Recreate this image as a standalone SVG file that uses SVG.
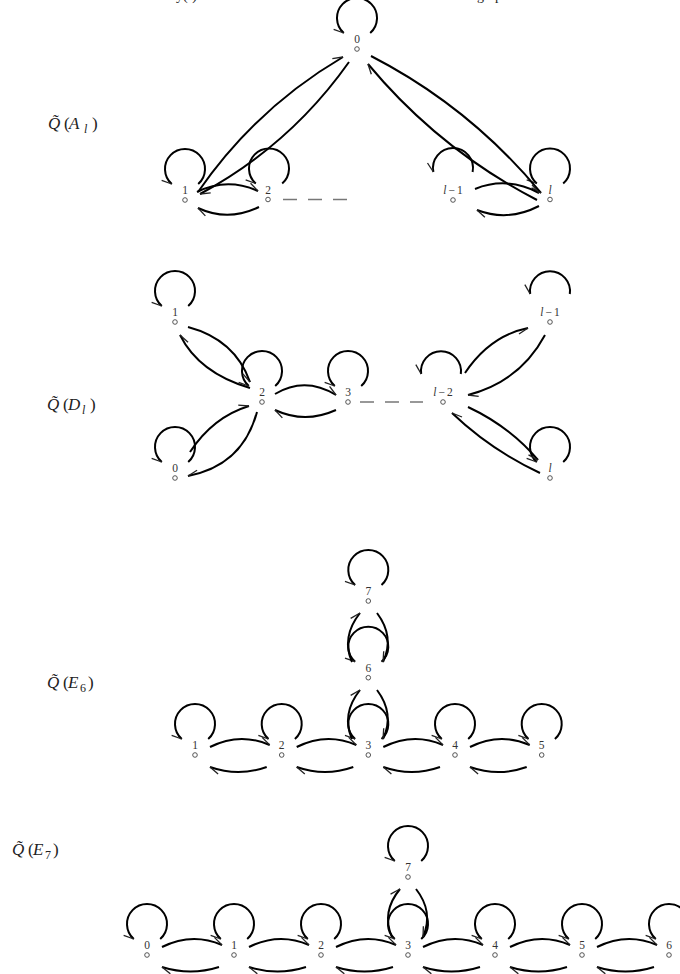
<svg xmlns="http://www.w3.org/2000/svg" width="680" height="974" viewBox="0 0 680 974">
<style>
.e{fill:none;stroke:#000;stroke-width:2}
.d{fill:none;stroke:#777;stroke-width:1.4;stroke-dasharray:14 11}
.n circle{fill:#fff;stroke:#444;stroke-width:0.9}
.lb{font-family:"Liberation Serif","DejaVu Serif",serif;font-size:11.5px;fill:#333;text-anchor:middle}
.t{font-family:"Liberation Serif","DejaVu Serif",serif;font-size:17px;fill:#222}
.i{font-style:italic}
.s{font-size:12px}
</style>
<defs>
<marker id="aL" markerUnits="userSpaceOnUse" orient="auto" overflow="visible" markerWidth="10" markerHeight="10" refX="0" refY="0"><path d="M0,0 L-10,-4" fill="none" stroke="#222" stroke-width="1.3"/></marker>
<marker id="aR" markerUnits="userSpaceOnUse" orient="auto" overflow="visible" markerWidth="10" markerHeight="10" refX="0" refY="0"><path d="M0,0 L-10,4" fill="none" stroke="#222" stroke-width="1.3"/></marker>
</defs>

<g id="page-fragments">
<text class="t" x="176" y="0" style="font-size:14px">y(·)</text>
<text class="t" x="477" y="0" style="font-size:14px">graph</text>
</g>

<g id="titles">
<text class="t"><tspan class="i" x="48" y="129">Q̃</tspan><tspan x="64" y="129">(</tspan><tspan class="i" x="69" y="129">A</tspan><tspan class="i s" x="84" y="133">l</tspan><tspan x="92" y="129">)</tspan></text>
<text class="t"><tspan class="i" x="47" y="410">Q̃</tspan><tspan x="63" y="410">(</tspan><tspan class="i" x="68" y="410">D</tspan><tspan class="i s" x="82" y="414">l</tspan><tspan x="90" y="410">)</tspan></text>
<text class="t"><tspan class="i" x="47" y="688">Q̃</tspan><tspan x="63" y="688">(</tspan><tspan class="i" x="68" y="688">E</tspan><tspan class="s" x="80" y="692">6</tspan><tspan x="88" y="688">)</tspan></text>
<text class="t"><tspan class="i" x="12" y="855">Q̃</tspan><tspan x="28" y="855">(</tspan><tspan class="i" x="33" y="855">E</tspan><tspan class="s" x="45" y="859">7</tspan><tspan x="53" y="855">)</tspan></text>
</g>

<g id="connectors">
<!-- A_l -->
<path class="e" marker-end="url(#aR)" d="M370.2,33 A20,20 0 1 0 343.8,33"/>
<path class="e" marker-end="url(#aR)" d="M198.2,184 A20,20 0 1 0 171.8,184"/>
<path class="e" marker-end="url(#aR)" d="M282.2,183.5 A20,20 0 1 0 255.8,183.5"/>
<path class="e" marker-end="url(#aR)" d="M472.6,172 A20,20 0 1 0 433.4,172"/>
<path class="e" marker-end="url(#aR)" d="M563.2,183.5 A20,20 0 1 0 536.8,183.5"/>
<path class="e" marker-end="url(#aL)" d="M198,192 Q255.5,108.4 343,57"/>
<path class="e" marker-end="url(#aL)" d="M349,62 Q290,145.5 200,194"/>
<path class="e" marker-end="url(#aL)" d="M197,192 Q227,177 258,191"/>
<path class="e" marker-end="url(#aL)" d="M259,207 Q228,222 198,208"/>
<path class="e" marker-end="url(#aR)" d="M371,56 Q469.8,106.8 541,193"/>
<path class="e" marker-end="url(#aL)" d="M537,200 Q438.8,149.2 368,64"/>
<path class="e" marker-end="url(#aL)" d="M475,189 Q507,176 539,193"/>
<path class="e" marker-end="url(#aL)" d="M539,206 Q508,222 477,210"/>
<path class="d" d="M283,199.5 L350,199.5"/>
<!-- D_l -->
<path class="e" marker-end="url(#aR)" d="M188.2,306 A20,20 0 1 0 161.8,306"/>
<path class="e" marker-end="url(#aR)" d="M275.2,386 A20,20 0 1 0 248.8,386"/>
<path class="e" marker-end="url(#aR)" d="M361.2,386 A20,20 0 1 0 334.8,386"/>
<path class="e" marker-end="url(#aR)" d="M460.8,374 A20,20 0 1 0 421.2,374"/>
<path class="e" marker-end="url(#aR)" d="M188.2,462 A20,20 0 1 0 161.8,462"/>
<path class="e" marker-end="url(#aR)" d="M569.8,294 A20,20 0 1 0 530.2,294"/>
<path class="e" marker-end="url(#aR)" d="M563.2,462 A20,20 0 1 0 536.8,462"/>
<path class="e" marker-end="url(#aR)" d="M188,327 Q235,339.5 250,382"/>
<path class="e" marker-end="url(#aR)" d="M250,388 Q199,373 180,335"/>
<path class="e" marker-end="url(#aL)" d="M275,394 Q305,376 336,395"/>
<path class="e" marker-end="url(#aL)" d="M336,410 Q305,424 275,410"/>
<path class="d" d="M360,402 L423,402"/>
<path class="e" marker-end="url(#aL)" d="M190,452 Q213,417 249,406"/>
<path class="e" marker-end="url(#aR)" d="M257,412 Q242.7,465.6 188,476"/>
<path class="e" marker-end="url(#aR)" d="M465,373 Q489.8,335.8 528,328"/>
<path class="e" marker-end="url(#aL)" d="M545,335 Q520,381.6 468,395"/>
<path class="e" marker-end="url(#aR)" d="M468,407 Q510,426.7 538,460"/>
<path class="e" marker-end="url(#aR)" d="M540,473 Q490.8,450 452,413"/>
<!-- E6 -->
<path class="e" marker-end="url(#aR)" d="M381.5,585 A20,20 0 1 0 355.1,585"/>
<path class="e" marker-end="url(#aR)" d="M381.5,661.7 A20,20 0 1 0 355.1,661.7"/>
<path class="e" marker-end="url(#aR)" d="M208.2,739 A20,20 0 1 0 181.8,739"/>
<path class="e" marker-end="url(#aR)" d="M294.9,739 A20,20 0 1 0 268.5,739"/>
<path class="e" marker-end="url(#aR)" d="M381.5,739 A20,20 0 1 0 355.1,739"/>
<path class="e" marker-end="url(#aR)" d="M468.2,739 A20,20 0 1 0 441.8,739"/>
<path class="e" marker-end="url(#aR)" d="M554.9,739 A20,20 0 1 0 528.5,739"/>
<path class="e" marker-end="url(#aL)" d="M352,662 Q341,637 360,613"/>
<path class="e" marker-end="url(#aR)" d="M377,613 Q395,637 383,662"/>
<path class="e" marker-end="url(#aL)" d="M352,739 Q341,714 360,690"/>
<path class="e" marker-end="url(#aR)" d="M377,690 Q395,714 383,739"/>
<path class="e" marker-end="url(#aL)" d="M210,747 Q239.8,732 269.7,745"/>
<path class="e" marker-end="url(#aL)" d="M266.7,767 Q238.3,777 210,767"/>
<path class="e" marker-end="url(#aL)" d="M296.7,747 Q326.5,732 356.3,745"/>
<path class="e" marker-end="url(#aL)" d="M353.3,767 Q325,777 296.7,767"/>
<path class="e" marker-end="url(#aL)" d="M383.3,747 Q413.2,732 443,745"/>
<path class="e" marker-end="url(#aL)" d="M440,767 Q411.7,777 383.3,767"/>
<path class="e" marker-end="url(#aL)" d="M470,747 Q499.8,732 529.7,745"/>
<path class="e" marker-end="url(#aL)" d="M526.7,767 Q498.3,777 470,767"/>
<!-- E7 -->
<path class="e" marker-end="url(#aR)" d="M421.2,861 A20,20 0 1 0 394.8,861"/>
<path class="e" marker-end="url(#aR)" d="M160.2,939 A20,20 0 1 0 133.8,939"/>
<path class="e" marker-end="url(#aR)" d="M247.2,939 A20,20 0 1 0 220.8,939"/>
<path class="e" marker-end="url(#aR)" d="M334.2,939 A20,20 0 1 0 307.8,939"/>
<path class="e" marker-end="url(#aR)" d="M421.2,939 A20,20 0 1 0 394.8,939"/>
<path class="e" marker-end="url(#aR)" d="M508.2,939 A20,20 0 1 0 481.8,939"/>
<path class="e" marker-end="url(#aR)" d="M595.2,939 A20,20 0 1 0 568.8,939"/>
<path class="e" marker-end="url(#aR)" d="M682.2,939 A20,20 0 1 0 655.8,939"/>
<path class="e" marker-end="url(#aL)" d="M392,937 Q381,912 400,889"/>
<path class="e" marker-end="url(#aR)" d="M416,889 Q434,912 423,937"/>
<path class="e" marker-end="url(#aL)" d="M162,947 Q192,932 222,945"/>
<path class="e" marker-end="url(#aL)" d="M219,967 Q190.5,976 162,967"/>
<path class="e" marker-end="url(#aL)" d="M249,947 Q279,932 309,945"/>
<path class="e" marker-end="url(#aL)" d="M306,967 Q277.5,976 249,967"/>
<path class="e" marker-end="url(#aL)" d="M336,947 Q366,932 396,945"/>
<path class="e" marker-end="url(#aL)" d="M393,967 Q364.5,976 336,967"/>
<path class="e" marker-end="url(#aL)" d="M423,947 Q453,932 483,945"/>
<path class="e" marker-end="url(#aL)" d="M480,967 Q451.5,976 423,967"/>
<path class="e" marker-end="url(#aL)" d="M510,947 Q540,932 570,945"/>
<path class="e" marker-end="url(#aL)" d="M567,967 Q538.5,976 510,967"/>
<path class="e" marker-end="url(#aL)" d="M597,947 Q627,932 657,945"/>
<path class="e" marker-end="url(#aL)" d="M654,967 Q625.5,976 597,967"/>
</g>

<!-- A_l nodes -->
<g id="a-n0" class="n"><circle cx="357" cy="49" r="2.3"/><text class="lb" x="357" y="43">0</text></g>
<g id="a-n1" class="n"><circle cx="185" cy="200" r="2.3"/><text class="lb" x="185" y="194">1</text></g>
<g id="a-n2" class="n"><circle cx="268" cy="199.5" r="2.3"/><text class="lb" x="268" y="193.5">2</text></g>
<g id="a-nl1" class="n"><circle cx="453" cy="200" r="2.3"/><text class="lb" x="453" y="194"><tspan class="i">l</tspan><tspan dx="2">−</tspan><tspan dx="2">1</tspan></text></g>
<g id="a-nl" class="n"><circle cx="550" cy="199.5" r="2.3"/><text class="lb i" x="550" y="193.5">l</text></g>

<!-- D_l nodes -->
<g id="d-n1" class="n"><circle cx="175" cy="322" r="2.3"/><text class="lb" x="175" y="316">1</text></g>
<g id="d-n2" class="n"><circle cx="262" cy="402" r="2.3"/><text class="lb" x="262" y="396">2</text></g>
<g id="d-n3" class="n"><circle cx="348" cy="402" r="2.3"/><text class="lb" x="348" y="396">3</text></g>
<g id="d-nl2" class="n"><circle cx="443" cy="402" r="2.3"/><text class="lb" x="443" y="396"><tspan class="i">l</tspan><tspan dx="2">−</tspan><tspan dx="2">2</tspan></text></g>
<g id="d-n0" class="n"><circle cx="175" cy="478" r="2.3"/><text class="lb" x="175" y="472">0</text></g>
<g id="d-nl1" class="n"><circle cx="550" cy="322" r="2.3"/><text class="lb" x="550" y="316"><tspan class="i">l</tspan><tspan dx="2">−</tspan><tspan dx="2">1</tspan></text></g>
<g id="d-nl" class="n"><circle cx="550" cy="478" r="2.3"/><text class="lb i" x="550" y="472">l</text></g>

<!-- E6 nodes -->
<g id="e6-n7" class="n"><circle cx="368.3" cy="601" r="2.3"/><text class="lb" x="368.3" y="595">7</text></g>
<g id="e6-n6" class="n"><circle cx="368.3" cy="677.7" r="2.3"/><text class="lb" x="368.3" y="671.7">6</text></g>
<g id="e6-n1" class="n"><circle cx="195" cy="755" r="2.3"/><text class="lb" x="195" y="749">1</text></g>
<g id="e6-n2" class="n"><circle cx="281.7" cy="755" r="2.3"/><text class="lb" x="281.7" y="749">2</text></g>
<g id="e6-n3" class="n"><circle cx="368.3" cy="755" r="2.3"/><text class="lb" x="368.3" y="749">3</text></g>
<g id="e6-n4" class="n"><circle cx="455" cy="755" r="2.3"/><text class="lb" x="455" y="749">4</text></g>
<g id="e6-n5" class="n"><circle cx="541.7" cy="755" r="2.3"/><text class="lb" x="541.7" y="749">5</text></g>

<!-- E7 nodes -->
<g id="e7-n7" class="n"><circle cx="408" cy="877" r="2.3"/><text class="lb" x="408" y="871">7</text></g>
<g id="e7-n0" class="n"><circle cx="147" cy="955" r="2.3"/><text class="lb" x="147" y="949">0</text></g>
<g id="e7-n1" class="n"><circle cx="234" cy="955" r="2.3"/><text class="lb" x="234" y="949">1</text></g>
<g id="e7-n2" class="n"><circle cx="321" cy="955" r="2.3"/><text class="lb" x="321" y="949">2</text></g>
<g id="e7-n3" class="n"><circle cx="408" cy="955" r="2.3"/><text class="lb" x="408" y="949">3</text></g>
<g id="e7-n4" class="n"><circle cx="495" cy="955" r="2.3"/><text class="lb" x="495" y="949">4</text></g>
<g id="e7-n5" class="n"><circle cx="582" cy="955" r="2.3"/><text class="lb" x="582" y="949">5</text></g>
<g id="e7-n6" class="n"><circle cx="669" cy="955" r="2.3"/><text class="lb" x="669" y="949">6</text></g>
</svg>
